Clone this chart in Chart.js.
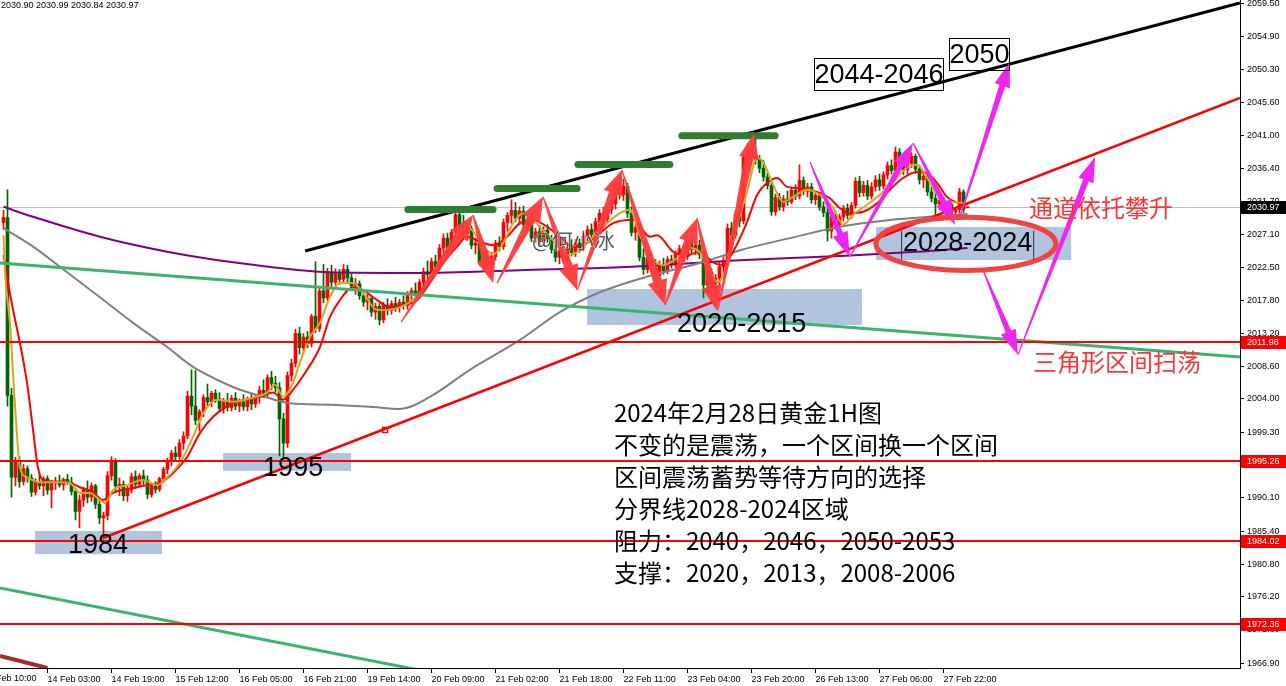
<!DOCTYPE html>
<html lang="zh">
<head>
<meta charset="UTF-8">
<title>黄金1H图</title>
<script src="https://cdn.jsdelivr.net/npm/chart.js"></script>
<style>
  body { margin: 0; background: #fff; }
  #wrap { width: 1286px; height: 686px; }
</style>
</head>
<body>
<div id="wrap"><canvas id="c" width="1286" height="686"></canvas></div>
<script>
// ---- candles, one per hour, index 0 = 13 Feb 14:00 ----
const opens = [
  2028.8, 2029.5, 2004.5, 1993.0, 1995.3, 1992.4, 1994.2, 1992.9, 1990.9, 1992.4,
  1991.8, 1992.8, 1991.2, 1992.2, 1992.5, 1991.9, 1992.7, 1992.3, 1991.0, 1988.2,
  1989.8, 1991.2, 1990.2, 1991.8, 1989.2, 1987.3, 1987.6, 1993.2, 1995.2, 1991.8,
  1992.0, 1990.4, 1991.2, 1993.1, 1992.0, 1993.2, 1992.6, 1990.6, 1991.8, 1991.3,
  1992.8, 1994.1, 1995.2, 1996.4, 1995.9, 1997.8, 1998.8, 2004.4, 2003.0, 2001.0,
  2002.2, 2004.2, 2003.6, 2004.8, 2004.0, 2002.7, 2003.6, 2002.8, 2004.1, 2003.0,
  2003.6, 2002.9, 2003.9, 2003.3, 2004.3, 2005.2, 2004.8, 2007.0, 2006.2, 2005.6,
  2001.2, 1997.8, 2007.3, 2009.0, 2013.2, 2011.2, 2012.7, 2011.8, 2015.6, 2013.9,
  2019.2, 2018.2, 2021.8, 2020.4, 2021.6, 2020.8, 2022.2, 2021.0, 2019.9, 2020.2,
  2018.5, 2017.6, 2018.1, 2016.2, 2017.0, 2015.1, 2017.2, 2016.4, 2017.4, 2016.9,
  2017.6, 2017.1, 2018.7, 2019.2, 2018.8, 2020.4, 2021.9, 2021.5, 2023.3, 2022.6,
  2025.2, 2026.6, 2025.3, 2027.4, 2029.9, 2028.2, 2027.3, 2027.9, 2025.6, 2025.9,
  2023.4, 2024.2, 2022.9, 2024.0, 2025.9, 2025.4, 2028.8, 2029.8, 2030.5, 2029.4,
  2030.4, 2028.5, 2029.1, 2026.6, 2027.5, 2026.1, 2027.7, 2026.5, 2025.0, 2023.9,
  2024.8, 2023.6, 2025.2, 2024.6, 2025.9, 2025.2, 2026.9, 2027.8, 2027.1, 2028.9,
  2030.1, 2029.3, 2030.6, 2031.4, 2033.7, 2032.7, 2033.9, 2030.1, 2027.4, 2028.1,
  2023.9, 2022.2, 2023.8, 2022.4, 2021.3, 2022.9, 2022.0, 2023.6, 2022.9, 2024.4,
  2025.1, 2024.0, 2025.8, 2025.0, 2025.6, 2024.3, 2020.0, 2021.8, 2020.2, 2021.0,
  2022.6, 2023.4, 2028.0, 2027.0, 2030.0, 2029.0, 2038.0, 2039.3, 2038.1, 2037.6,
  2036.4, 2035.2, 2034.0, 2030.3, 2032.3, 2031.0, 2032.1, 2031.7, 2033.3, 2032.5,
  2034.7, 2033.2, 2033.8, 2032.0, 2032.6, 2031.0, 2030.2, 2027.6, 2029.6, 2028.5,
  2029.6, 2030.8, 2029.8, 2031.2, 2034.6, 2033.0, 2034.0, 2032.5, 2033.8, 2034.8,
  2033.9, 2035.5, 2036.8, 2036.1, 2038.7, 2037.1, 2036.2, 2037.1, 2038.1, 2036.3,
  2034.8, 2035.3, 2033.1, 2032.2, 2031.4, 2031.9, 2030.7, 2031.3, 2030.3, 2030.6,
  2033.1, 2030.90
];
const highs = [
  2030.5, 2033.4, 2005.5, 1995.8, 1995.9, 1994.8, 1994.6, 1993.4, 1992.8, 1993.5,
  1993.1, 1993.2, 1992.6, 1993.0, 1993.3, 1992.9, 1993.4, 1993.0, 1991.4, 1990.5,
  1991.6, 1992.5, 1992.2, 1992.0, 1990.0, 1988.1, 1993.8, 1995.9, 1995.6, 1992.9,
  1992.5, 1991.7, 1993.6, 1993.9, 1993.5, 1994.0, 1993.2, 1992.2, 1992.4, 1993.0,
  1994.4, 1995.7, 1996.8, 1997.3, 1998.3, 1999.4, 2005.1, 2008.1, 2008.0, 2002.5,
  2004.6, 2006.1, 2005.1, 2005.3, 2004.9, 2004.1, 2004.8, 2004.5, 2004.9, 2004.0,
  2004.6, 2004.3, 2004.8, 2004.6, 2005.8, 2006.7, 2007.4, 2007.9, 2007.2, 2006.3,
  2002.0, 2007.8, 2009.6, 2013.8, 2014.1, 2013.2, 2013.5, 2015.9, 2023.3, 2019.8,
  2022.9, 2022.4, 2022.8, 2022.3, 2022.2, 2022.9, 2022.8, 2021.6, 2020.9, 2020.6,
  2019.2, 2018.7, 2018.5, 2017.5, 2017.4, 2017.6, 2018.1, 2017.8, 2018.3, 2018.0,
  2018.5, 2019.1, 2019.6, 2020.3, 2020.8, 2022.4, 2023.4, 2023.8, 2024.2, 2025.7,
  2027.2, 2027.3, 2027.8, 2030.3, 2030.3, 2029.8, 2028.6, 2028.3, 2026.6, 2026.3,
  2024.8, 2024.9, 2024.6, 2026.3, 2026.8, 2029.3, 2030.2, 2032.0, 2031.6, 2031.0,
  2031.1, 2029.7, 2029.5, 2028.0, 2028.4, 2028.2, 2028.5, 2027.0, 2025.8, 2025.3,
  2025.3, 2025.7, 2026.4, 2026.4, 2026.5, 2027.3, 2028.3, 2028.6, 2029.4, 2030.6,
  2030.9, 2031.1, 2032.0, 2034.4, 2035.2, 2034.9, 2034.3, 2031.0, 2028.7, 2028.5,
  2025.1, 2024.4, 2024.3, 2023.6, 2023.4, 2023.8, 2024.0, 2024.2, 2024.8, 2025.6,
  2025.5, 2026.2, 2026.8, 2026.1, 2026.3, 2024.8, 2022.4, 2022.3, 2021.5, 2023.2,
  2024.0, 2028.6, 2028.8, 2030.5, 2031.2, 2038.6, 2039.9, 2040.4, 2041.1, 2038.2,
  2037.5, 2035.8, 2034.5, 2032.8, 2032.9, 2032.6, 2033.2, 2033.8, 2034.1, 2036.9,
  2035.2, 2034.3, 2034.3, 2033.1, 2033.0, 2031.7, 2030.8, 2030.1, 2030.4, 2030.0,
  2031.2, 2031.4, 2031.6, 2035.1, 2035.3, 2034.6, 2034.7, 2034.4, 2035.4, 2035.6,
  2035.9, 2037.3, 2037.6, 2039.4, 2039.2, 2037.9, 2037.6, 2038.6, 2038.4, 2036.8,
  2035.8, 2035.6, 2033.8, 2033.3, 2032.4, 2032.3, 2031.8, 2031.7, 2030.9, 2033.6,
  2033.4, 2030.99
];
const lows = [
  2027.8, 2003.0, 1990.2, 1991.8, 1991.6, 1991.9, 1992.3, 1990.3, 1990.5, 1991.3,
  1990.4, 1990.6, 1988.7, 1991.3, 1991.6, 1991.2, 1992.0, 1990.5, 1987.0, 1985.9,
  1988.9, 1989.4, 1989.6, 1988.6, 1986.5, 1984.3, 1987.0, 1992.6, 1991.0, 1990.4,
  1989.7, 1989.6, 1990.8, 1991.4, 1991.6, 1992.0, 1990.0, 1990.2, 1990.8, 1991.0,
  1992.3, 1993.5, 1994.6, 1995.3, 1995.5, 1996.9, 1998.4, 2001.8, 2000.4, 1999.5,
  2001.5, 2003.0, 2002.9, 2003.5, 2002.3, 2002.0, 2002.3, 2002.3, 2002.5, 2002.2,
  2002.4, 2002.3, 2002.5, 2002.8, 2003.4, 2004.2, 2004.3, 2005.3, 2005.0, 1996.0,
  1995.7, 1997.2, 2006.5, 2008.5, 2010.3, 2010.6, 2011.2, 2011.3, 2013.3, 2013.5,
  2017.5, 2017.8, 2019.6, 2019.9, 2020.1, 2020.4, 2020.4, 2019.4, 2018.7, 2018.0,
  2017.0, 2016.5, 2015.6, 2015.2, 2014.4, 2014.7, 2015.8, 2015.9, 2016.3, 2016.2,
  2016.6, 2016.6, 2017.8, 2018.2, 2018.4, 2019.8, 2020.8, 2021.0, 2021.9, 2022.1,
  2024.5, 2024.6, 2024.9, 2026.8, 2027.6, 2026.6, 2026.3, 2025.1, 2024.4, 2022.8,
  2022.4, 2022.3, 2022.5, 2023.5, 2024.8, 2025.0, 2027.6, 2028.7, 2028.9, 2028.5,
  2028.0, 2027.6, 2026.1, 2026.0, 2025.5, 2025.8, 2026.0, 2024.5, 2023.3, 2023.0,
  2023.1, 2023.2, 2024.1, 2024.0, 2024.6, 2024.8, 2026.2, 2026.6, 2026.8, 2028.3,
  2028.6, 2028.9, 2030.0, 2030.7, 2032.1, 2031.9, 2029.5, 2026.9, 2026.3, 2023.4,
  2021.5, 2021.7, 2021.8, 2020.6, 2020.9, 2021.5, 2021.6, 2022.4, 2022.5, 2023.8,
  2023.4, 2023.6, 2024.5, 2024.3, 2023.7, 2018.2, 2019.2, 2019.5, 2017.4, 2019.9,
  2021.8, 2023.0, 2026.2, 2026.6, 2028.2, 2028.6, 2036.5, 2037.3, 2037.0, 2035.8,
  2034.6, 2033.5, 2029.8, 2029.8, 2030.5, 2030.4, 2031.2, 2031.4, 2032.0, 2032.1,
  2032.7, 2032.4, 2031.5, 2031.3, 2030.5, 2029.6, 2026.2, 2026.6, 2027.8, 2028.0,
  2029.0, 2029.3, 2029.4, 2030.8, 2032.4, 2032.5, 2032.0, 2032.1, 2033.2, 2033.3,
  2033.5, 2034.9, 2035.6, 2035.8, 2036.6, 2035.5, 2035.6, 2036.5, 2035.7, 2034.2,
  2033.7, 2032.6, 2031.7, 2029.3, 2030.6, 2030.2, 2029.9, 2029.8, 2029.4, 2030.1,
  2030.2, 2030.84
];
const closes = [
  2029.5, 2004.5, 1993.0, 1995.3, 1992.4, 1994.2, 1992.9, 1990.9, 1992.4, 1991.8,
  1992.8, 1991.2, 1992.2, 1992.5, 1991.9, 1992.7, 1992.3, 1991.0, 1988.2, 1989.8,
  1991.2, 1990.2, 1991.8, 1989.2, 1987.3, 1987.6, 1993.2, 1995.2, 1991.8, 1992.0,
  1990.4, 1991.2, 1993.1, 1992.0, 1993.2, 1992.6, 1990.6, 1991.8, 1991.3, 1992.8,
  1994.1, 1995.2, 1996.4, 1995.9, 1997.8, 1998.8, 2004.4, 2003.0, 2001.0, 2002.2,
  2004.2, 2003.6, 2004.8, 2004.0, 2002.7, 2003.6, 2002.8, 2004.1, 2003.0, 2003.6,
  2002.9, 2003.9, 2003.3, 2004.3, 2005.2, 2004.8, 2007.0, 2006.2, 2005.6, 2001.2,
  1997.8, 2007.3, 2009.0, 2013.2, 2011.2, 2012.7, 2011.8, 2015.6, 2013.9, 2019.2,
  2018.2, 2021.8, 2020.4, 2021.6, 2020.8, 2022.2, 2021.0, 2019.9, 2020.2, 2018.5,
  2017.6, 2018.1, 2016.2, 2017.0, 2015.1, 2017.2, 2016.4, 2017.4, 2016.9, 2017.6,
  2017.1, 2018.7, 2019.2, 2018.8, 2020.4, 2021.9, 2021.5, 2023.3, 2022.6, 2025.2,
  2026.6, 2025.3, 2027.4, 2029.9, 2028.2, 2027.3, 2027.9, 2025.6, 2025.9, 2023.4,
  2024.2, 2022.9, 2024.0, 2025.9, 2025.4, 2028.8, 2029.8, 2030.5, 2029.4, 2030.4,
  2028.5, 2029.1, 2026.6, 2027.5, 2026.1, 2027.7, 2026.5, 2025.0, 2023.9, 2024.8,
  2023.6, 2025.2, 2024.6, 2025.9, 2025.2, 2026.9, 2027.8, 2027.1, 2028.9, 2030.1,
  2029.3, 2030.6, 2031.4, 2033.7, 2032.7, 2033.9, 2030.1, 2027.4, 2028.1, 2023.9,
  2022.2, 2023.8, 2022.4, 2021.3, 2022.9, 2022.0, 2023.6, 2022.9, 2024.4, 2025.1,
  2024.0, 2025.8, 2025.0, 2025.6, 2024.3, 2020.0, 2021.8, 2020.2, 2021.0, 2022.6,
  2023.4, 2028.0, 2027.0, 2030.0, 2029.0, 2038.0, 2039.3, 2038.1, 2037.6, 2036.4,
  2035.2, 2034.0, 2030.3, 2032.3, 2031.0, 2032.1, 2031.7, 2033.3, 2032.5, 2034.7,
  2033.2, 2033.8, 2032.0, 2032.6, 2031.0, 2030.2, 2027.6, 2029.6, 2028.5, 2029.6,
  2030.8, 2029.8, 2031.2, 2034.6, 2033.0, 2034.0, 2032.5, 2033.8, 2034.8, 2033.9,
  2035.5, 2036.8, 2036.1, 2038.7, 2037.1, 2036.2, 2037.1, 2038.1, 2036.3, 2034.8,
  2035.3, 2033.1, 2032.2, 2031.4, 2031.9, 2030.7, 2031.3, 2030.3, 2030.6, 2033.1,
  2030.6, 2030.97
];

// ---- moving averages (bar index, price) ----
const fastIdx = [0, 0.4, 1.6, 2.9, 4.1, 5.9, 9.1, 14.1, 16.6, 19.1, 21.6, 24.1, 25.4, 27.4, 30.9, 34.9, 38.4, 40.9,
  44.1, 47.4, 49.9, 53.4, 57.4, 62.4, 65.9, 67.9, 69.9, 72.4, 74.1, 76.6, 79.1, 81.6, 84.1, 87.4, 89.9, 93.4, 95.9,
  99.1, 101.6, 104.1, 106.6, 109.9, 113.4, 115.9, 118.4, 120.9, 122.4, 124.9, 127.4, 129.9, 132.4, 134.9, 137.4,
  140.9, 144.1, 147.4, 150.9, 154.1, 156.6, 159.1, 161.6, 164.9, 168.4, 171.6, 174.1, 176.6, 178.6, 180.9, 183.4,
  185.9, 188.4, 189.9, 192.4, 194.9, 197.4, 200.9, 204.1, 207.4, 209.9, 212.4, 215.9, 219.1, 222.4, 225.9, 228.4,
  230.9, 233.4, 235.9, 239.1, 241];
const fastMA = [2027.0, 2021.7, 2014.7, 2002.9, 1994.4, 1993.0, 1992.3, 1992.3, 1992.2, 1990.8, 1990.8, 1989.8, 1989.4,
  1991.2, 1991.9, 1992.6, 1991.9, 1993.0, 1995.0, 1998.7, 2002.0, 2003.9, 2003.6, 2004.2, 2004.9, 2006.0, 2004.3,
  2006.3, 2009.1, 2012.7, 2014.7, 2018.3, 2020.3, 2020.3, 2018.9, 2016.5, 2016.5, 2016.9, 2017.6, 2018.9, 2021.1,
  2024.0, 2026.8, 2028.2, 2026.8, 2024.9, 2024.3, 2025.9, 2028.7, 2030.1, 2029.1, 2027.7, 2026.3, 2024.2, 2024.9,
  2026.8, 2028.7, 2030.1, 2030.6, 2027.0, 2024.1, 2022.8, 2023.8, 2025.2, 2024.6, 2021.8, 2020.4, 2022.8, 2028.45,
  2033.1, 2037.9, 2037.3, 2034.1, 2031.7, 2032.4, 2033.4, 2032.7, 2030.9, 2028.5, 2029.9, 2031.3, 2032.7, 2034.5,
  2036.5, 2036.9, 2035.1, 2032.7, 2031.7, 2031.6, 2031.3];
const slowIdx = [0, 0.9, 2.4, 4.1, 5.9, 7.4, 8.6, 9.9, 15.9, 19.1, 22.4, 24.9, 27.4, 32.4, 35.9, 39.1, 42.4, 45.9, 49.1,
  52.4, 57.4, 64.1, 67.4, 69.9, 72.4, 75.9, 79.1, 81.6, 84.1, 87.4, 89.9, 93.4, 96.6, 99.9, 103.4, 106.6, 109.9,
  113.4, 115.9, 119.1, 122.4, 125.9, 129.1, 132.4, 135.9, 139.1, 142.4, 145.9, 149.1, 152.4, 157.4, 161.6, 163.4,
  167.4, 170.9, 174.1, 177.4, 179.9, 182.4, 185.9, 188.4, 190.9, 193.4, 195.9, 199.1, 203.4, 206.6, 209.1, 211.6,
  214.9, 218.4, 221.6, 224.9, 228.4, 230.9, 233.4, 235.9, 239.1, 241];
const slowMA = [2024.2, 2021.1, 2016.5, 2011.9, 2006.2, 1999.6, 1994.4, 1992.6, 1992.3, 1991.6, 1990.9, 1989.8, 1990.8,
  1991.5, 1991.9, 1992.2, 1993.6, 1995.85, 1999.2, 2001.5, 2003.4, 2004.3, 2004.9, 2003.9, 2005.3, 2008.1, 2011.3,
  2015.5, 2017.9, 2019.7, 2019.3, 2017.9, 2016.9, 2017.2, 2017.9, 2020.3, 2023.1, 2025.4, 2026.8, 2026.1, 2025.6,
  2026.8, 2028.7, 2029.15, 2028.2, 2026.8, 2025.4, 2025.9, 2027.3, 2028.7, 2029.2, 2026.8, 2027.0, 2024.7, 2024.2,
  2024.7, 2023.2, 2022.8, 2024.7, 2028.9, 2032.7, 2034.35, 2035.05, 2033.8, 2033.6, 2033.1, 2032.2, 2030.8, 2030.1,
  2030.3, 2031.5, 2033.4, 2035.05, 2035.9, 2035.75, 2034.35, 2032.4, 2031.5, 2031.4];
const grayIdx = [0, 7.4, 15.9, 24.1, 32.4, 40.9, 47.4, 53.4, 59.1, 65.9, 71.6, 81.6, 91.6, 99.1, 106.6, 116.6, 129.1,
  139.1, 149.1, 161.6, 174.1, 184.1, 196.6, 209.1, 221.6, 234.1, 241];
const grayMA = [2028.0, 2025.4, 2021.8, 2018.3, 2014.7, 2011.3, 2008.5, 2006.7, 2005.3, 2004.2, 2003.4, 2003.2, 2002.9,
  2002.6, 2004.3, 2008.1, 2012.3, 2016.2, 2019.0, 2021.3, 2023.1, 2024.9, 2026.6, 2028.2, 2029.15, 2029.7, 2030.0];
const purpleIdx = [0, 7.4, 24.1, 40.9, 57.4, 74.1, 81.6, 104.1, 129.1, 154.1, 184.1, 209.1, 234.1, 241];
const purpleMA = [2031.0, 2029.6, 2026.8, 2024.7, 2023.2, 2022.1, 2021.8, 2021.7, 2022.1, 2022.5, 2023.5, 2024.1,
  2024.9, 2025.2];

// ---- axes ----
const priceTicks = [2059.50, 2054.90, 2050.30, 2045.60, 2041.00, 2036.40, 2031.70, 2027.10, 2022.50, 2017.80,
  2013.20, 2008.60, 2004.00, 1999.30, 1994.70, 1990.10, 1985.40, 1980.80, 1976.20, 1971.60, 1966.90];
const timeTickIdx = [11, 27, 43, 59, 75, 91, 107, 123, 139, 155, 171, 187, 203, 219, 235];
const timeTickLabels = ['14 Feb 03:00', '14 Feb 19:00', '15 Feb 12:00', '16 Feb 05:00', '16 Feb 21:00',
  '19 Feb 14:00', '20 Feb 09:00', '21 Feb 02:00', '21 Feb 18:00', '22 Feb 11:00', '23 Feb 04:00',
  '23 Feb 20:00', '26 Feb 13:00', '27 Feb 06:00', '27 Feb 22:00'];

// ---- drawings (bar index, price) ----
const levels = [2011.98, 1995.26, 1984.02, 1972.36];
const lastPrice = 2030.97;
const trendBlack = [[75.4, 2024.8], [309.1, 2059.64]];
const trendRed = [[24.9, 1984.47], [309.1, 2046.3]];
const trendGreen = [[-0.875, 2023.1], [309.1, 2009.9]];
const trendGreen2 = [[-0.875, 1977.44], [104, 1965.9]];
const trendBrown = [[-0.875, 1967.9], [11, 1966.2]];
const zones = [[7.9, 39.6, 1985.45, 1982.2], [54.9, 86.9, 1996.4, 1993.9], [145.9, 214.6, 2019.45, 2014.4],
  [218.1, 266.9, 2028.17, 2023.53]];
const peakBars = [[101.1, 122.4, 2030.63], [123.4, 143.4, 2033.58], [143.6, 166.6, 2036.95], [169.6, 192.9, 2041.0]];
const redArrows = [[99.4, 2014.8, 117.4, 2029.85], [117.4, 2029.85, 122.4, 2020.3], [123.4, 2020.3, 134.9, 2032.4],
  [134.9, 2032.4, 143.4, 2019.3], [143.4, 2019.3, 154.6, 2036.2], [154.6, 2036.2, 165.4, 2017.2],
  [165.4, 2017.2, 173.4, 2029.4], [173.4, 2029.4, 178.4, 2016.4], [178.6, 2016.4, 187.6, 2041.3]];
const pinkArrows = [[201.6, 2037.3, 211.6, 2023.95], [211.6, 2023.95, 227.4, 2039.97], [227.4, 2039.97, 237.9, 2028.45],
  [239.1, 2029.6, 251.6, 2051.35], [244.9, 2022.1, 253.6, 2010.2], [253.6, 2010.2, 272.9, 2038.0]];
const priceNotes = [['1984', 16.1, 1983.35], ['1995', 64.9, 1994.2], ['2020-2015', 168.4, 2014.5],
  ['2028-2024', 224.9, 2025.8]];
const boxedNotes = [['2044-2046', 202.6, 234.9, 2051.9, 2047.4], ['2050', 236.4, 251.4, 2054.7, 2050.2]];
const redNotes = [['通道依托攀升', 256.4, 2030.8], ['三角形区间扫荡', 257.4, 2009.2]];
const ellipseAt = [240.6, 2025.8, 22.5, 3.75];
const markerAt = [95.4, 1999.64];
const watermark = ['@何小冰', 132.1, 2026.3];
const noteAnchor = [152.6, 2002.0];
const noteLines = ['2024年2月28日黄金1H图', '不变的是震荡，一个区间换一个区间', '区间震荡蓄势等待方向的选择',
  '分界线2028-2024区域', '阻力：2040，2046，2050-2053', '支撑：2020，2013，2008-2006'];

const UP = '#ff0000', DOWN = '#006400';
const bars = closes.map((c, i) => i);
const candleColor = ctx => closes[ctx.dataIndex] >= opens[ctx.dataIndex] ? UP : DOWN;
const pts = (idx, vals) => idx.map((x, k) => ({ x: x, y: vals[k] }));
const seg = a => a.map(p => ({ x: p[0], y: p[1] }));

function line(data, color, width, order, smooth) {
  return { type: 'line', data: data, borderColor: color, borderWidth: width, pointRadius: 0,
    cubicInterpolationMode: smooth ? 'monotone' : 'default', tension: 0, order: order };
}

function arrow(ctx, x1, y1, x2, y2, shaft, head, headLen) {
  const len = Math.hypot(x2 - x1, y2 - y1), ux = (x2 - x1) / len, uy = (y2 - y1) / len;
  const nx = -uy, ny = ux, bx = x2 - ux * headLen, by = y2 - uy * headLen;
  ctx.beginPath();
  ctx.moveTo(x1 + nx * 0.6, y1 + ny * 0.6);
  ctx.lineTo(bx + nx * shaft, by + ny * shaft);
  ctx.lineTo(bx + nx * head, by + ny * head);
  ctx.lineTo(x2, y2);
  ctx.lineTo(bx - nx * head, by - ny * head);
  ctx.lineTo(bx - nx * shaft, by - ny * shaft);
  ctx.lineTo(x1 - nx * 0.6, y1 - ny * 0.6);
  ctx.closePath();
  ctx.fill();
}

const drawings = {
  id: 'drawings',
  beforeDatasetsDraw(chart) {
    const { ctx, chartArea: a } = chart, X = v => chart.scales.x.getPixelForValue(v), Y = v => chart.scales.y.getPixelForValue(v);
    ctx.save();
    ctx.beginPath(); ctx.rect(a.left, a.top, a.right - a.left, a.bottom - a.top); ctx.clip();
    ctx.fillStyle = '#b0c4de';
    zones.forEach(z => ctx.fillRect(X(z[0]), Y(z[2]), X(z[1]) - X(z[0]), Y(z[3]) - Y(z[2])));
    ctx.strokeStyle = '#c0c0c0'; ctx.lineWidth = 1;
    ctx.beginPath(); ctx.moveTo(a.left, Math.round(Y(lastPrice)) + 0.5); ctx.lineTo(a.right, Math.round(Y(lastPrice)) + 0.5); ctx.stroke();
    ctx.restore();
  },
  afterDatasetsDraw(chart) {
    const { ctx, chartArea: a } = chart, X = v => chart.scales.x.getPixelForValue(v), Y = v => chart.scales.y.getPixelForValue(v);
    ctx.save();
    ctx.beginPath(); ctx.rect(a.left, a.top, a.right - a.left, a.bottom - a.top); ctx.clip();

    // horizontal levels
    ctx.strokeStyle = '#ff0000'; ctx.lineWidth = 2;
    levels.forEach(l => { const y = Math.round(Y(l)); ctx.beginPath(); ctx.moveTo(a.left, y); ctx.lineTo(a.right, y); ctx.stroke(); });

    // marker on the channel line
    ctx.lineWidth = 1.5;
    ctx.strokeRect(X(markerAt[0]) - 2.5, Y(markerAt[1]) - 2.5, 5, 5);

    // resistance bars
    ctx.strokeStyle = '#2e7d32'; ctx.lineWidth = 7; ctx.lineCap = 'round';
    peakBars.forEach(b => { ctx.beginPath(); ctx.moveTo(X(b[0]), Y(b[2])); ctx.lineTo(X(b[1]), Y(b[2])); ctx.stroke(); });
    ctx.lineCap = 'butt';

    // arrows
    ctx.fillStyle = 'rgba(255,58,58,0.95)';
    redArrows.forEach(r => arrow(ctx, X(r[0]), Y(r[1]), X(r[2]), Y(r[3]), 4.5, 10, 25));
    ctx.fillStyle = '#f025f0';
    pinkArrows.forEach(r => arrow(ctx, X(r[0]), Y(r[1]), X(r[2]), Y(r[3]), 3, 8, 25));

    // watermark, on top of the arrows
    ctx.font = '21px "Noto Sans CJK SC"'; ctx.textBaseline = 'middle'; ctx.textAlign = 'left';
    ctx.lineWidth = 1; ctx.strokeStyle = 'rgba(255,255,255,0.6)';
    ctx.strokeText(watermark[0], X(watermark[1]), Y(watermark[2]));
    ctx.fillStyle = 'rgba(60,60,60,0.85)';
    ctx.fillText(watermark[0], X(watermark[1]), Y(watermark[2]));

    // ellipse
    ctx.strokeStyle = '#f04444'; ctx.lineWidth = 5;
    ctx.beginPath();
    ctx.ellipse(X(ellipseAt[0]), Y(ellipseAt[1]), X(ellipseAt[0] + ellipseAt[2]) - X(ellipseAt[0]),
      Y(ellipseAt[1] - ellipseAt[3]) - Y(ellipseAt[1]), 0, 0, Math.PI * 2);
    ctx.stroke();

    // price labels
    ctx.fillStyle = '#000'; ctx.font = '27px "Liberation Sans"';
    priceNotes.forEach(n => ctx.fillText(n[0], X(n[1]), Y(n[2])));
    ctx.strokeStyle = '#333'; ctx.lineWidth = 1;
    const w = ctx.measureText('2028-2024').width;
    ctx.beginPath();
    ctx.moveTo(X(224.9) - 1.5, Y(2025.8) - 13); ctx.lineTo(X(224.9) - 1.5, Y(2025.8) + 16);
    ctx.moveTo(X(224.9) + w + 1.5, Y(2025.8) - 13); ctx.lineTo(X(224.9) + w + 1.5, Y(2025.8) + 16);
    ctx.stroke();
    ctx.strokeStyle = '#000';
    ctx.textAlign = 'center';
    boxedNotes.forEach(b => {
      const x1 = Math.round(X(b[1])) + 0.5, x2 = Math.round(X(b[2])) + 0.5, y1 = Math.round(Y(b[3])) + 0.5, y2 = Math.round(Y(b[4])) + 0.5;
      ctx.strokeRect(x1, y1, x2 - x1, y2 - y1);
      ctx.fillText(b[0], (x1 + x2) / 2, (y1 + y2) / 2 + 1);
    });
    ctx.textAlign = 'left';

    // red captions
    ctx.fillStyle = '#ff3333'; ctx.font = '24px "Noto Sans CJK SC"';
    redNotes.forEach(n => ctx.fillText(n[0], X(n[1]), Y(n[2])));

    // commentary
    ctx.fillStyle = '#000';
    noteLines.forEach((t, k) => ctx.fillText(t, X(noteAnchor[0]), Y(noteAnchor[1]) + k * 32));

    // header
    ctx.font = '9px "Liberation Sans"'; ctx.textBaseline = 'top';
    ctx.fillText('2030.90 2030.99 2030.84 2030.97', a.left + 1, a.top + 1);
    ctx.restore();
  },
  afterDraw(chart) {
    const { ctx, chartArea: a } = chart, X = v => chart.scales.x.getPixelForValue(v), Y = v => chart.scales.y.getPixelForValue(v);
    ctx.save();
    ctx.font = '9px "Liberation Sans"'; ctx.textBaseline = 'middle'; ctx.textAlign = 'left';
    const tag = (v, bg) => {
      const y = Math.round(Y(v));
      ctx.fillStyle = bg; ctx.fillRect(a.right + 1, y - 6, 46, 13);
      ctx.fillStyle = '#fff'; ctx.fillText(v.toFixed(2), a.right + 7, y + 1);
    };
    levels.forEach(l => tag(l, '#ff0000'));
    tag(lastPrice, '#000');
    // first, partly hidden time label
    ctx.fillStyle = '#000'; ctx.textBaseline = 'top';
    ctx.fillText('13 Feb 10:00', X(-5), a.bottom + 6);
    ctx.restore();
  }
};

new Chart(document.getElementById('c'), {
  type: 'bar',
  data: {
    datasets: [
      { type: 'bar', data: bars.map(i => ({ x: i, y: [lows[i], highs[i]] })), backgroundColor: candleColor,
        barThickness: 1, grouped: false, order: 20 },
      { type: 'bar', data: bars.map(i => {
          let lo = Math.min(opens[i], closes[i]), hi = Math.max(opens[i], closes[i]);
          if (hi - lo < 0.14) { const m = (hi + lo) / 2; lo = m - 0.07; hi = m + 0.07; }
          return { x: i, y: [lo, hi] };
        }), backgroundColor: candleColor, barThickness: 3, grouped: false, order: 19 },
      line(pts(purpleIdx, purpleMA), '#800080', 2, 12, true),
      line(pts(grayIdx, grayMA), '#808080', 2, 11, true),
      line(pts(slowIdx, slowMA), '#ff0000', 2, 10, true),
      line(pts(fastIdx, fastMA), '#daa520', 2, 9, true),
      line(seg(trendGreen), '#3cb371', 3, 5, false),
      line(seg(trendGreen2), '#3cb371', 3, 5, false),
      line(seg(trendBrown), '#a52a2a', 4, 5, false),
      line(seg(trendRed), '#ff0000', 2.5, 4, false),
      line(seg(trendBlack), '#000000', 3, 3, false)
    ]
  },
  options: {
    responsive: false,
    devicePixelRatio: 1,
    animation: false,
    layout: { padding: 0 },
    plugins: { legend: { display: false }, tooltip: { enabled: false } },
    scales: {
      x: {
        type: 'linear', min: -0.875, max: 309.125, offset: false,
        grid: { offset: false, drawOnChartArea: false, drawTicks: true, tickLength: 5, color: '#000' },
        border: { display: true, color: '#000' },
        afterBuildTicks: s => { s.ticks = timeTickIdx.map(v => ({ value: v })); },
        afterFit: s => { s.height = 18; s.paddingLeft = 0; s.paddingRight = 0; },
        ticks: { autoSkip: false, maxRotation: 0, align: 'start', padding: 1, color: '#000',
          font: { family: 'Liberation Sans', size: 9 },
          callback: (v, i) => timeTickLabels[i] }
      },
      y: {
        type: 'linear', position: 'right', min: 1966.2, max: 2060.06,
        grid: { drawOnChartArea: false, drawTicks: true, tickLength: 4, color: '#000' },
        border: { display: true, color: '#000' },
        afterBuildTicks: s => { s.ticks = priceTicks.map(v => ({ value: v })); },
        afterFit: s => { s.width = 46; s.paddingTop = 0; s.paddingBottom = 0; },
        ticks: { padding: 3, color: '#000', font: { family: 'Liberation Sans', size: 9 },
          callback: v => Number(v).toFixed(2) }
      }
    }
  },
  plugins: [drawings]
});
</script>
</body>
</html>
